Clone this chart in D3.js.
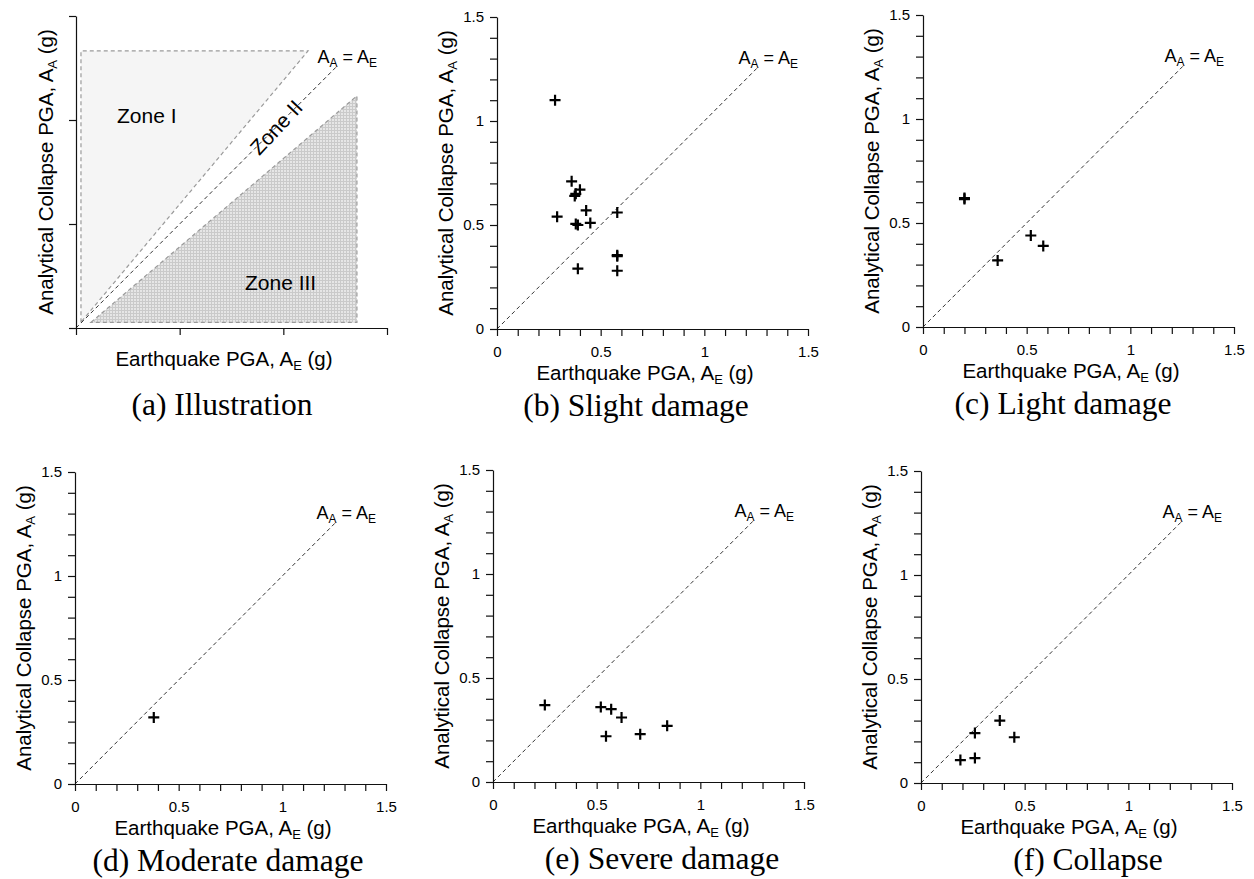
<!DOCTYPE html>
<html><head><meta charset="utf-8">
<script src="https://cdn.jsdelivr.net/npm/d3@7"></script>
<style>
body{margin:0;background:#fff}
text{font-family:"Liberation Sans",Arial,sans-serif;fill:#000}
.cap{font-family:"Liberation Serif","Times New Roman",serif}
</style>
</head><body>
<svg id="chart" width="1254" height="879"></svg>
<script>
// ---------- data ----------
const axisDomain = [0, 1.5];
const majorTicks = [0, 0.5, 1, 1.5];
const majorTickLabels = ["0", "0.5", "1", "1.5"];
const minorTicks = [0, 0.1, 0.2, 0.3, 0.4, 0.5, 0.6, 0.7, 0.8, 0.9, 1.0, 1.1, 1.2, 1.3, 1.4, 1.5];
const equalityLine = [0, 1.26];
const equalityLabelPos = [1.165, 1.275];

const captions = ["(a) Illustration", "(b) Slight damage", "(c) Light damage",
                  "(d) Moderate damage", "(e) Severe damage", "(f) Collapse"];

// (a) illustration zones
const zoneI_AE = [0.024, 0.024, 1.119];
const zoneI_AA = [0.028, 1.332, 1.332];
const zoneIII_AE = [0.072, 1.355, 1.355];
const zoneIII_AA = [0.027, 1.116, 0.027];
const zoneLabels = ["Zone I", "Zone II", "Zone III"];
const zoneLabelAE = [0.198, 0.965, 0.815];
const zoneLabelAA = [0.986, 0.965, 0.183];

// (b) slight damage
const slightAE = [0.28, 0.36, 0.40, 0.375, 0.38, 0.29, 0.43, 0.58, 0.38, 0.39, 0.45, 0.39, 0.58, 0.58, 0.58];
const slightAA = [1.10, 0.71, 0.67, 0.64, 0.65, 0.54, 0.57, 0.56, 0.505, 0.50, 0.51, 0.29, 0.35, 0.355, 0.28];
// (c) light damage
const lightAE = [0.20, 0.20, 0.52, 0.58, 0.36];
const lightAA = [0.62, 0.615, 0.44, 0.39, 0.32];
// (d) moderate damage
const moderateAE = [0.38];
const moderateAA = [0.32];
// (e) severe damage
const severeAE = [0.25, 0.52, 0.57, 0.62, 0.545, 0.71, 0.84];
const severeAA = [0.37, 0.36, 0.35, 0.31, 0.22, 0.23, 0.27];
// (f) collapse
const collapseAE = [0.38, 0.26, 0.45, 0.19, 0.26];
const collapseAA = [0.30, 0.24, 0.22, 0.11, 0.12];

// ---------- layout ----------
const W = 311, H = 312;
const panels = [
  {x0: 76,  top: 16,  cap: 146, illus: true},
  {x0: 497, top: 17,  cap: 139, ae: slightAE,   aa: slightAA},
  {x0: 923, top: 15,  cap: 140, ae: lightAE,    aa: lightAA},
  {x0: 75,  top: 472, cap: 153, ae: moderateAE, aa: moderateAA},
  {x0: 493, top: 470, cap: 169, ae: severeAE,   aa: severeAA},
  {x0: 921, top: 471, cap: 167, ae: collapseAE, aa: collapseAA}
];

const svg = d3.select("#chart");
const defs = svg.append("defs");
const pat = defs.append("pattern").attr("id", "mesh").attr("patternUnits", "userSpaceOnUse")
  .attr("width", 3).attr("height", 3);
pat.append("rect").attr("width", 3).attr("height", 3).attr("fill", "#e6e6e6");
pat.append("rect").attr("width", 3).attr("height", 1).attr("fill", "#cacaca");
pat.append("rect").attr("width", 1).attr("height", 3).attr("fill", "#cacaca");

function subText(sel, parts, size, subSize, shift) {
  const nodes = [];
  parts.forEach(([t, sub], i) => {
    const ts = sel.append("tspan").text(t);
    if (sub) ts.attr("font-size", subSize).attr("dy", shift);
    else ts.attr("font-size", size).attr("dy", (i > 0 && parts[i - 1][1]) ? -shift : 0);
  });
}

panels.forEach((p, i) => {
  const g = svg.append("g").attr("transform", `translate(${p.x0},${p.top})`);
  const x = d3.scaleLinear().domain(axisDomain).range([0, W]);
  const y = d3.scaleLinear().domain(axisDomain).range([H, 0]);

  if (p.illus) {
    const line = d3.line().x(d => x(d[0])).y(d => y(d[1]));
    const zI = zoneI_AE.map((v, k) => [v, zoneI_AA[k]]);
    const zIII = zoneIII_AE.map((v, k) => [v, zoneIII_AA[k]]);
    g.append("path").attr("d", line(zI) + "Z").attr("fill", "#f5f5f5")
      .attr("stroke", "#9a9a9a").attr("stroke-width", 1.2).attr("stroke-dasharray", "4,3");
    g.append("path").attr("d", line(zIII) + "Z").attr("fill", "url(#mesh)")
      .attr("stroke", "#9a9a9a").attr("stroke-width", 1.2).attr("stroke-dasharray", "4,3");
    g.append("text").attr("x", x(zoneLabelAE[0])).attr("y", y(zoneLabelAA[0]))
      .attr("font-size", 21).text(zoneLabels[0]);
    g.append("text").attr("x", x(zoneLabelAE[2])).attr("y", y(zoneLabelAA[2]))
      .attr("font-size", 21).text(zoneLabels[2]);
    g.append("text").attr("text-anchor", "middle").attr("dy", "0.36em")
      .attr("transform", `translate(${x(zoneLabelAE[1])},${y(zoneLabelAA[1])}) rotate(-47)`)
      .attr("font-size", 21).text(zoneLabels[1]);
  }

  // equality line
  g.append("line")
    .attr("x1", x(equalityLine[0])).attr("y1", y(equalityLine[0]))
    .attr("x2", x(equalityLine[1])).attr("y2", y(equalityLine[1]))
    .attr("stroke", "#333").attr("stroke-width", 1).attr("stroke-dasharray", "4,3");
  const eq = g.append("text").attr("x", x(equalityLabelPos[0])).attr("y", y(equalityLabelPos[1]));
  subText(eq, [["A", false], ["A", true], [" = A", false], ["E", true]], 18, 12, 4);

  // axes
  const xAxis = d3.axisBottom(x).tickSize(7).tickSizeOuter(0);
  const yAxis = d3.axisLeft(y).tickSize(7).tickSizeOuter(0);
  if (p.illus) {
    xAxis.tickValues(majorTicks).tickFormat("");
    yAxis.tickValues(majorTicks).tickFormat("");
  } else {
    const fmt = v => { const k = majorTicks.findIndex(m => Math.abs(m - v) < 1e-6); return k >= 0 ? majorTickLabels[k] : ""; };
    xAxis.tickValues(minorTicks).tickFormat(fmt).tickPadding(10);
    yAxis.tickValues(minorTicks).tickFormat(fmt).tickPadding(6);
  }
  const gx = g.append("g").attr("transform", `translate(0,${H})`).call(xAxis);
  const gy = g.append("g").call(yAxis);
  [gx, gy].forEach(a => {
    a.attr("font-size", 15).attr("font-family", "Liberation Sans, Arial, sans-serif");
    a.selectAll("path,line").attr("stroke", "#111").attr("stroke-width", 1.2);
    a.selectAll("text").attr("fill", "#000");
  });

  // points
  if (p.ae) {
    g.selectAll("path.pt").data(p.ae.map((v, k) => [v, p.aa[k]])).join("path")
      .attr("class", "pt")
      .attr("d", d => `M${x(d[0]) - 5.5},${y(d[1])}h11M${x(d[0])},${y(d[1]) - 5.5}v11`)
      .attr("stroke", "#000").attr("stroke-width", 2.2).attr("fill", "none");
  }

  // axis titles
  const xt = g.append("text").attr("text-anchor", "middle").attr("x", 148)
    .attr("y", H + (p.illus ? 38 : 51));
  subText(xt, [["Earthquake PGA, A", false], ["E", true], [" (g)", false]], 20.5, 13, 4);
  const yt = g.append("text").attr("text-anchor", "middle")
    .attr("transform", `translate(${p.illus ? -23 : -44},${H / 2}) rotate(-90)`);
  subText(yt, [["Analytical Collapse PGA, A", false], ["A", true], [" (g)", false]], 20.5, 13, 4);

  // caption
  g.append("text").attr("class", "cap").attr("text-anchor", "middle")
    .attr("x", p.cap).attr("y", H + 87).attr("font-size", 31.5).text(captions[i]);
});
</script>
</body></html>
